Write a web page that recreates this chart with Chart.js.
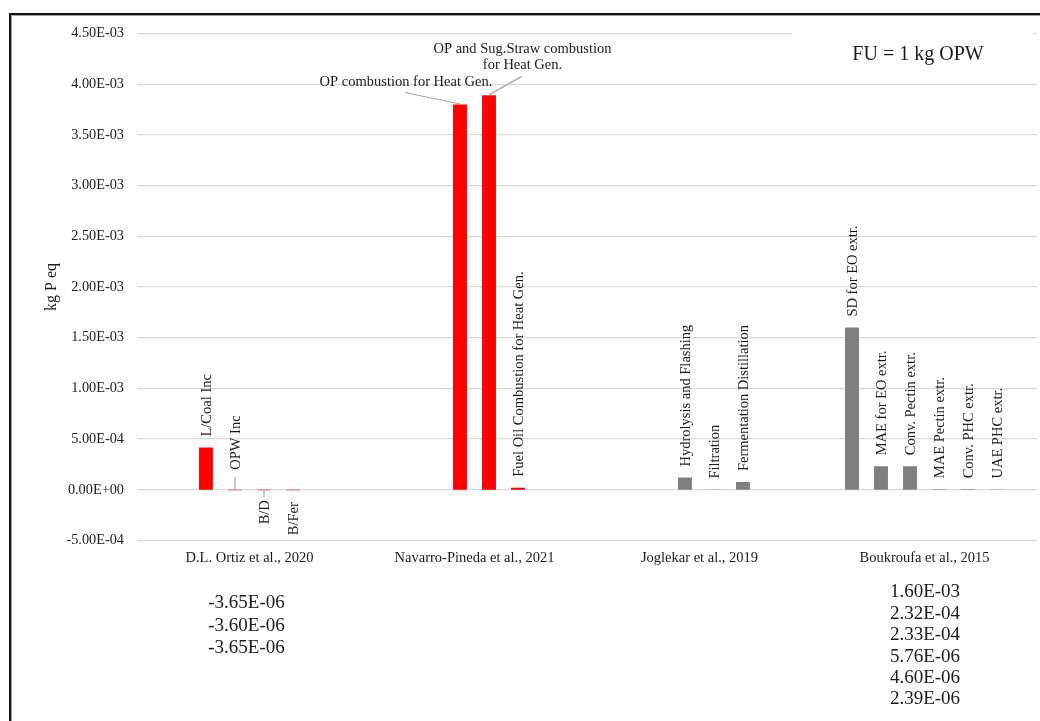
<!DOCTYPE html>
<html>
<head>
<meta charset="utf-8">
<title>Eutrophication (kg P eq) per kg OPW</title>
<script src="https://cdn.jsdelivr.net/npm/chart.js@4.4.1/dist/chart.umd.min.js"></script>
<style>
  html, body { margin: 0; padding: 0; background: #fff; }
  #wrap { position: relative; width: 1040px; height: 721px; overflow: hidden; }
  #frame {
    position: absolute; left: 9px; top: 13px; right: -10px; bottom: -10px;
    border-left: 2px solid #111; border-top: 2px solid #111;
    box-shadow: inset 1px 1px 0 #a0a0a0; pointer-events: none;
  }
</style>
</head>
<body>
<div id="wrap">
  <canvas id="chart" width="1040" height="721"></canvas>
  <div id="frame"></div>
</div>
<script>
// ---- data -------------------------------------------------------------
const studies = ['D.L. Ortiz et al., 2020', 'Navarro-Pineda et al., 2021', 'Joglekar et al., 2019', 'Boukroufa et al., 2015'];
const studyColors = ['#ff0000', '#ff0000', '#7f7f7f', '#7f7f7f'];
// first of the six bar slots used by each study
const firstSlot = [1, 2, 2, 0];

const ortizProcesses = ['L/Coal Inc', 'OPW Inc', 'B/D', 'B/Fer'];
const ortizValues = [4.17e-4, -3.65e-6, -3.60e-6, -3.65e-6];

const navarroProcesses = ['OP combustion for Heat Gen.', 'OP and Sug.Straw combustion\nfor Heat Gen.', 'Fuel Oil Combustion for Heat Gen.'];
const navarroValues = [3.80e-3, 3.89e-3, 2.0e-5];

const joglekarProcesses = ['Hydrolysis and Flashing', 'Filtration', 'Fermentation Distillation'];
const joglekarValues = [1.21e-4, 2.0e-6, 7.6e-5];

const boukroufaProcesses = ['SD for EO extr.', 'MAE for EO extr.', 'Conv. Pectin extr.', 'MAE Pectin extr.', 'Conv. PHC extr.', 'UAE PHC extr.'];
const boukroufaValues = [1.60e-3, 2.32e-4, 2.33e-4, 5.76e-6, 4.60e-6, 2.39e-6];

// values too small to see, listed under their study
const noteValues = [ortizValues.slice(1), [], [], boukroufaValues];

const yMin = -5e-4, yMax = 4.5e-3, yStep = 5e-4;

// ---- layout / style ---------------------------------------------------
const SERIF = '"Liberation Serif", "Times New Roman", serif';
const TEXT = '#1a1a1a';
const LEADER = '#a6a6a6';
const SLOTS = 6;

// hand-placed labels; everything else sits 11px past the bar end, rotated
const labelPlacement = {
  'OPW Inc': { gap: 20, leader: [0, 13] },
  'B/D': { below: 10, leader: [0, 7] },
  'B/Fer': { below: 12 },
  'OP combustion for Heat Gen.': { flat: true, dx: -54, dy: -22, from: [-55, -12] },
  'OP and Sug.Straw combustion\nfor Heat Gen.': { flat: true, dx: 33.5, dy: -46.4, from: [32.7, -19] }
};
const noteLayout = [{ top: 63, step: 22.5, dx: -3 }, null, null, { top: 52, step: 21.4, dx: 0.5 }];

function sci(v) {
  if (Math.abs(v) < 1e-12) return '0.00E+00';
  const [m, e] = Number(v).toExponential(2).split('e');
  const n = parseInt(e, 10);
  return m + 'E' + (n < 0 ? '-' : '+') + String(Math.abs(n)).padStart(2, '0');
}

const processes = [ortizProcesses, navarroProcesses, joglekarProcesses, boukroufaProcesses];
const values = [ortizValues, navarroValues, joglekarValues, boukroufaValues];

const datasets = [];
for (let s = 0; s < SLOTS; s++) {
  const data = [], names = [];
  studies.forEach((_, i) => {
    const k = s - firstSlot[i];
    data.push(k >= 0 && k < values[i].length ? values[i][k] : null);
    names.push(k >= 0 && k < processes[i].length ? processes[i][k] : null);
  });
  datasets.push({
    label: 'slot ' + (s + 1),
    data,
    names,
    backgroundColor: studyColors,
    borderWidth: 0,
    categoryPercentage: 0.7733,
    barPercentage: 0.48
  });
}

// ---- bar labels, notes and the FU box --------------------------------
const annotate = {
  id: 'annotate',
  afterDatasetsDraw(chart) {
    const { ctx, chartArea, scales: { x } } = chart;
    ctx.save();
    ctx.fillStyle = TEXT;
    ctx.strokeStyle = LEADER;
    ctx.lineWidth = 1.2;
    ctx.font = '14.5px ' + SERIF;

    chart.data.datasets.forEach((ds, di) => {
      const meta = chart.getDatasetMeta(di);
      ds.names.forEach((name, ci) => {
        if (!name) return;
        const bar = meta.data[ci];
        const top = Math.min(bar.y, bar.base);
        const bottom = Math.max(bar.y, bar.base);
        const p = labelPlacement[name] || {};

        if (p.flat) {
          const lines = name.split('\n');
          ctx.textAlign = 'center';
          ctx.textBaseline = 'middle';
          lines.forEach((ln, li) => ctx.fillText(ln, bar.x + p.dx, top + p.dy + li * 16.7));
          ctx.beginPath();
          ctx.moveTo(bar.x + p.from[0], top + p.from[1]);
          ctx.lineTo(bar.x, top - 0.5);
          ctx.stroke();
          return;
        }

        if (p.leader) {
          const dir = p.below ? 1 : -1;
          const edge = p.below ? bottom : top;
          ctx.beginPath();
          ctx.moveTo(bar.x, edge + dir * p.leader[0]);
          ctx.lineTo(bar.x, edge + dir * p.leader[1]);
          ctx.stroke();
        }

        ctx.save();
        ctx.textBaseline = 'middle';
        if (p.below) {
          ctx.translate(bar.x + 1, bottom + p.below);
          ctx.textAlign = 'right';
        } else {
          ctx.translate(bar.x + 1, top - (p.gap || 11));
          ctx.textAlign = 'left';
        }
        ctx.rotate(-Math.PI / 2);
        ctx.fillText(name, 0, 0);
        ctx.restore();
      });
    });

    // small values written out under the axis
    ctx.font = '19px ' + SERIF;
    ctx.textAlign = 'center';
    ctx.textBaseline = 'middle';
    noteValues.forEach((list, i) => {
      const lay = noteLayout[i];
      if (!lay) return;
      const cx = x.getPixelForValue(i) + lay.dx;
      list.forEach((v, k) => ctx.fillText(sci(v), cx, chartArea.bottom + lay.top + k * lay.step));
    });

    // functional unit box
    ctx.fillStyle = '#fff';
    ctx.fillRect(chartArea.right - 245, chartArea.top - 11, 241, 56);
    ctx.fillStyle = TEXT;
    ctx.font = '20px ' + SERIF;
    ctx.fillText('FU = 1 kg OPW', chartArea.right - 119, chartArea.top + 21.5);
    ctx.restore();
  }
};

new Chart(document.getElementById('chart'), {
  type: 'bar',
  data: { labels: studies, datasets },
  plugins: [annotate],
  options: {
    responsive: false,
    animation: false,
    devicePixelRatio: 1,
    layout: { padding: { top: 33.5, right: 3, left: 0, bottom: 0 } },
    plugins: { legend: { display: false }, tooltip: { enabled: false } },
    scales: {
      x: {
        grid: { display: false, drawTicks: false },
        border: { display: false },
        ticks: { color: TEXT, padding: 9, maxRotation: 0, font: { family: SERIF, size: 14.5 } },
        afterFit: s => { s.height = 180.5; }
      },
      y: {
        min: yMin,
        max: yMax,
        grid: { color: '#d9d9d9', lineWidth: 1.3, drawTicks: false },
        border: { display: false },
        ticks: {
          stepSize: yStep,
          color: TEXT,
          padding: 13,
          font: { family: SERIF, size: 14.3 },
          callback: v => sci(v)
        },
        title: { display: true, text: 'kg P eq', color: TEXT, padding: { top: 42, bottom: 0 }, font: { family: SERIF, size: 16 } },
        afterFit: s => { s.width = 137; }
      }
    }
  }
});
</script>
</body>
</html>
